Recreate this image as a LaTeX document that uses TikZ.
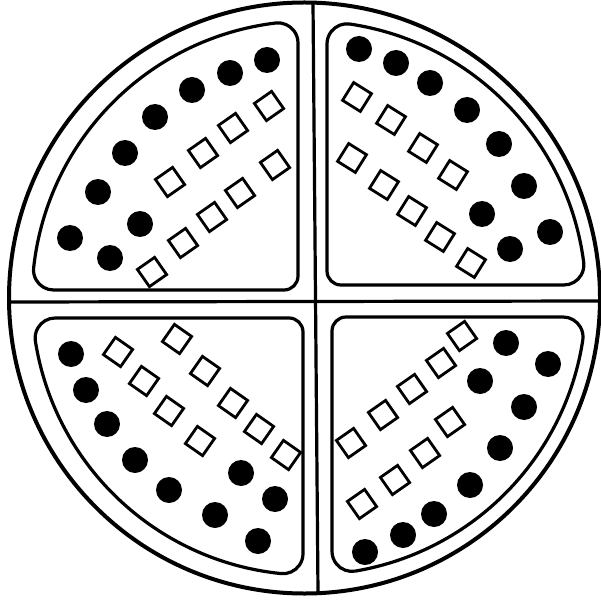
\documentclass[tikz,border=0pt]{standalone}
\def\Rin{277}\def\rc{20}\def\rk{14}
% one rounded sector: x sign, y sign, gap to vertical, gap to horizontal
\newcommand{\drawsector}[4]{%
  \begin{scope}[shift={(309,298)}, xscale=#1, yscale=#2]
    \pgfmathsetmacro{\fa}{100*sqrt(((\Rin-\rc)/100)^2-((#4+\rc)/100)^2)}
    \pgfmathsetmacro{\aa}{atan2(#4+\rc,\fa)}
    \pgfmathsetmacro{\fb}{100*sqrt(((\Rin-\rc)/100)^2-((#3+\rc)/100)^2)}
    \pgfmathsetmacro{\ab}{atan2(\fb,#3+\rc)}
    \draw[sector] (#3+\rk,#4) -- (\fa,#4)
      arc[start angle=-90, end angle=\aa, radius=\rc]
      arc[start angle=\aa, end angle=\ab, radius=\Rin]
      arc[start angle=\ab, end angle=180, radius=\rc]
      -- (#3,#4+\rk) arc[start angle=180, end angle=270, radius=\rk] -- cycle;
  \end{scope}}
\begin{document}
\begin{tikzpicture}[x=1pt, y=-1pt,
    dot/.style={circle, fill=black, inner sep=0pt, minimum size=26pt},
    cell/.style={draw, line width=2.8pt, rectangle, inner sep=0pt, minimum size=21pt},
    sector/.style={line width=3.2pt, line join=round},
    rimline/.style={line width=4pt}]
    \useasboundingbox (0,0) rectangle (601,601);

    % Rim and dividers
    \node[draw, rimline, circle, inner sep=0pt, minimum size=591pt] (rim) at (304.5,298) {};
    \coordinate (vtop) at (313,3);
    \coordinate (vbot) at (318,593);
    \coordinate (hleft) at (9.5,302);
    \coordinate (hright) at (599.5,301);
    \draw[line width=3.2pt] (vtop) -- (vbot);
    \draw[line width=3.2pt] (hleft) -- (hright);

    % Sectors
    \drawsector{-1}{-1}{11}{8}
    \drawsector{1}{-1}{18}{13}
    \drawsector{-1}{1}{6}{20}
    \drawsector{1}{1}{23}{19}

    % Top left
    \foreach \x/\y [count=\i] in {267/60, 230/73, 192/90, 155/117, 125/153,
        98/192, 70/238, 140/224, 110/258}
      \node[dot] (tl-d\i) at (\x,\y) {};
    \foreach \x/\y [count=\i] in {269/106, 233/128, 203/153, 170/182, 275/165,
        240/193, 212/217, 183/243, 152/272}
      \node[cell, rotate=35] (tl-c\i) at (\x,\y) {};

    % Top right
    \foreach \x/\y [count=\i] in {359/49, 396/63, 430/83, 467/110, 499/144,
        524/186, 550/232, 482/214, 510/249}
      \node[dot] (tr-d\i) at (\x,\y) {};
    \foreach \x/\y [count=\i] in {357/97, 391/120, 423/148, 453/175, 352/158,
        384/185, 412/211, 440/237, 471/263}
      \node[cell, rotate=-32] (tr-c\i) at (\x,\y) {};

    % Bottom left
    \foreach \x/\y [count=\i] in {71/354, 86/390, 107/424, 135/460, 169/490,
        215/515, 258/541, 241/473, 275/499}
      \node[dot] (bl-d\i) at (\x,\y) {};
    \foreach \x/\y [count=\i] in {118/352, 177/339, 144/381, 205/371, 169/411,
        233/403, 200/441, 259/429, 286/455}
      \node[cell, rotate=-35] (bl-c\i) at (\x,\y) {};

    % Bottom right
    \foreach \x/\y [count=\i] in {506/343, 548/364, 480/381, 524/407, 500/448,
        470/485, 434/514, 403/535, 365/552}
      \node[dot] (br-d\i) at (\x,\y) {};
    \foreach \x/\y [count=\i] in {462/336, 441/363, 412/389, 383/415, 351/443,
        450/422, 425/453, 395/480, 362/504}
      \node[cell, rotate=35] (br-c\i) at (\x,\y) {};
\end{tikzpicture}
\end{document}
